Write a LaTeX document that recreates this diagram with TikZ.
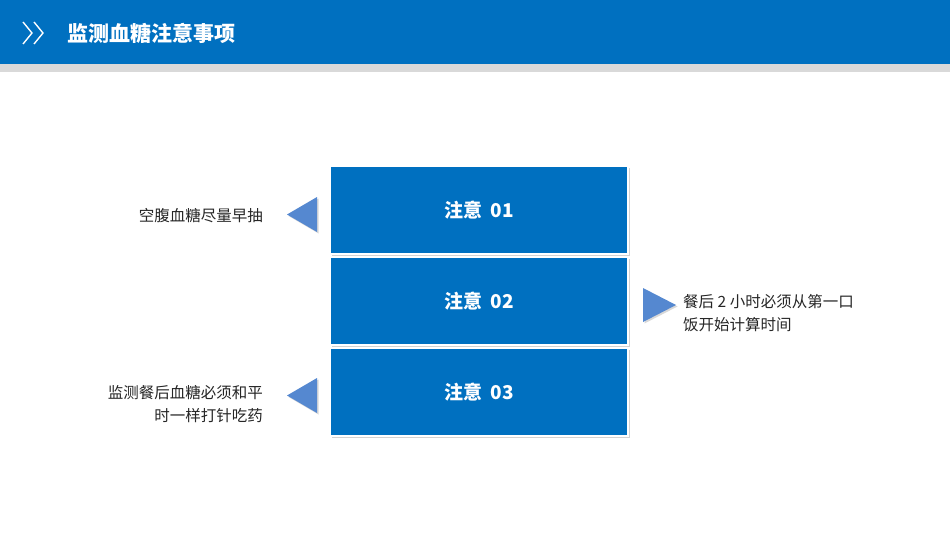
\documentclass[tikz,border=0pt]{standalone}
\usepackage{fontspec}
\setmainfont{Carlito}
\newfontfamily\cjk{Noto Sans CJK SC}
\usetikzlibrary{shadows}
\definecolor{barblue}{HTML}{0070C0}
\definecolor{tipblue}{HTML}{5588D0}
\definecolor{bargray}{HTML}{D9D9D9}
\definecolor{txtgray}{HTML}{262626}

\begin{document}
\begin{tikzpicture}[x=1pt,y=-1pt,
      note/.style={draw=white,line width=1.5pt,fill=barblue,minimum width=298pt,
        minimum height=88pt,inner sep=0pt,text=white,font=\cjk\bfseries\fontsize{19}{22}\selectfont,
        drop shadow={shadow xshift=1.5pt,shadow yshift=-1.5pt,opacity=.35}},
      tip/.style={fill=tipblue,draw=none,drop shadow={shadow xshift=1.5pt,shadow yshift=-1.5pt,opacity=.3}},
      side/.style={text=txtgray,font=\cjk\fontsize{15.5}{23}\selectfont,inner sep=0pt,align=left}]

    \useasboundingbox (0,0) rectangle (950,535);
    \fill[white] (0,0) rectangle (950,535);
    % header
    \fill[barblue] (0,0) rectangle (950,64);
    \fill[bargray] (0,64) rectangle (950,72);
    \draw[white,line width=1.4pt] (23,22) -- (32,33) -- (23,44) (34,22) -- (43,33) -- (34,44);
    \node[anchor=west,text=white,font=\cjk\bfseries\fontsize{21}{24}\selectfont] (title) at (64,33) {监测血糖注意事项};

    % boxes
    \node[note] (n1) at (479,210) {注意\ \ 01};
    \node[note] (n2) at (479,301) {注意\ \ 02};
    \node[note] (n3) at (479,392) {注意\ \ 03};

    % pointers
    \fill[tip] (317,197) -- (317,232) -- (287,214.5) -- cycle;
    \fill[tip] (643,288) -- (643,322) -- (676,305) -- cycle;
    \fill[tip] (317,378) -- (317,413) -- (287,395.5) -- cycle;

    % labels
    \node[side,anchor=east] (t1) at (263,216) {空腹血糖尽量早抽};
    \node[side,anchor=north west] (t2) at (683,294) {餐后 2 小时必须从第一口\\饭开始计算时间};
    \node[side,anchor=north east,align=right] (t3) at (263,385) {监测餐后血糖必须和平\\时一样打针吃药};
\end{tikzpicture}
\end{document}
